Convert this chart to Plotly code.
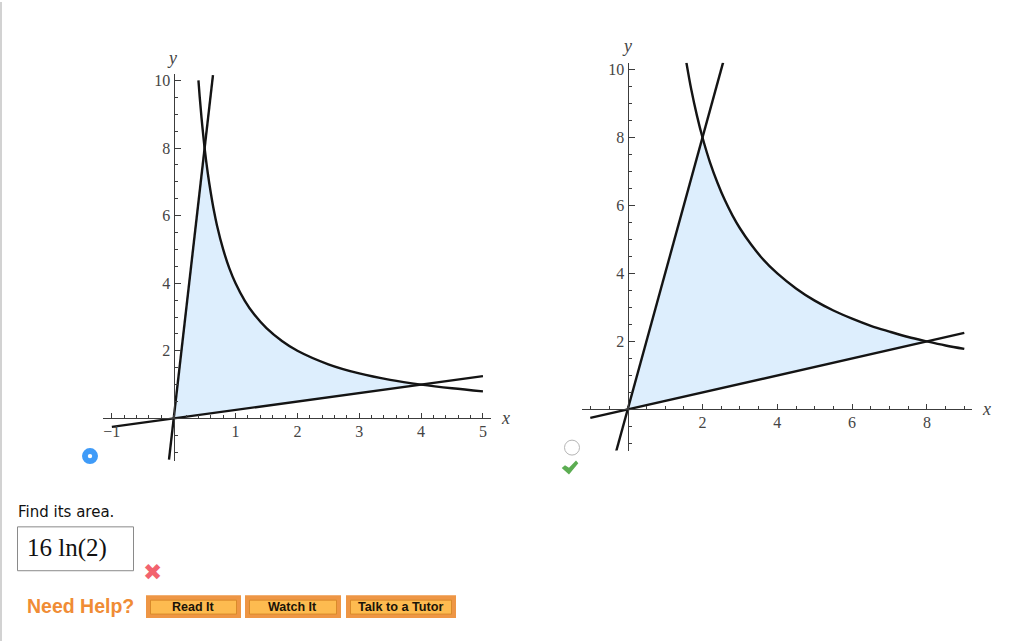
import plotly.graph_objects as go

W, H = 1024, 641

# Left panel readings
left_steep_x = [-0.076, 0, 0.5, 0.635]
left_steep_y = [-1.22, 0, 8, 10.16]
left_shallow_x = [-1, 0, 4, 5]
left_shallow_y = [-0.25, 0, 1, 1.25]
left_hyper_x = [0.4, 0.42, 0.45, 0.5, 0.55, 0.6, 0.65, 0.7, 0.8, 0.9, 1, 1.15, 1.3, 1.5, 1.75, 2, 2.5, 3, 3.5, 4, 4.5, 5]
left_hyper_y = [10.0, 9.52, 8.89, 8, 7.27, 6.67, 6.15, 5.71, 5, 4.44, 4, 3.48, 3.08, 2.67, 2.29, 2, 1.6, 1.33, 1.14, 1, 0.89, 0.8]

# Right panel readings
right_steep_x = [-0.31, 0, 2, 2.55]
right_steep_y = [-1.24, 0, 8, 10.2]
right_shallow_x = [-1, 0, 8, 9]
right_shallow_y = [-0.25, 0, 2, 2.25]
right_hyper_x = [1.57, 1.7, 1.85, 2, 2.2, 2.4, 2.6, 2.8, 3, 3.3, 3.6, 4, 4.5, 5, 5.5, 6, 6.5, 7, 7.5, 8, 8.5, 9]
right_hyper_y = [10.2, 9.41, 8.65, 8, 7.27, 6.67, 6.15, 5.71, 5.33, 4.85, 4.44, 4, 3.56, 3.2, 2.91, 2.67, 2.46, 2.29, 2.13, 2, 1.88, 1.78]

left_xticks = [-1, 1, 2, 3, 4, 5]
right_xticks = [2, 4, 6, 8]
y_ticks = [2, 4, 6, 8, 10]

AXIS = "#3c3c3c"
CURVE = "#141414"
FILL = "#DDEEFD"
SERIF = "Liberation Serif"
SANS = "DejaVu Sans"
ARIAL = "Liberation Sans"


def px(x):
    return x / W


def py(y):
    return 1 - y / H


fig = go.Figure()


def region(hx, hy, x0, x1, xaxis, yaxis):
    ix = [i for i, v in enumerate(hx) if x0 <= v <= x1]
    fx = [0] + [hx[i] for i in ix] + [0]
    fy = [0] + [hy[i] for i in ix] + [0]
    fig.add_trace(go.Scatter(x=fx, y=fy, mode="lines", fill="toself", fillcolor=FILL,
                             line=dict(width=0, color=FILL), xaxis=xaxis, yaxis=yaxis,
                             hoverinfo="skip", showlegend=False))


def curve(x, y, xaxis, yaxis, smooth=False):
    fig.add_trace(go.Scatter(x=x, y=y, mode="lines", xaxis=xaxis, yaxis=yaxis,
                             line=dict(color=CURVE, width=2.4, shape="spline" if smooth else "linear"),
                             hoverinfo="skip", showlegend=False))


region(left_hyper_x, left_hyper_y, 0.5, 4, "x", "y")
region(right_hyper_x, right_hyper_y, 2, 8, "x2", "y2")
for cx, cy in [(left_steep_x, left_steep_y), (left_shallow_x, left_shallow_y)]:
    curve(cx, cy, "x", "y")
curve(left_hyper_x, left_hyper_y, "x", "y", True)
for cx, cy in [(right_steep_x, right_steep_y), (right_shallow_x, right_shallow_y)]:
    curve(cx, cy, "x2", "y2")
curve(right_hyper_x, right_hyper_y, "x2", "y2", True)


def xaxis_cfg(l, r, x0_px, unit, y0_px, ticks, minor):
    return dict(domain=[px(l), px(r)], range=[(l - x0_px) / unit, (r - x0_px) / unit],
                anchor="free", position=py(y0_px), showgrid=False, zeroline=False,
                showline=True, linecolor=AXIS, linewidth=1.4, side="bottom",
                tickmode="array", tickvals=ticks, ticks="inside", ticklen=5, tickwidth=1,
                ticklabelstandoff=-2,
                tickcolor=AXIS, tickfont=dict(family=SERIF, size=16, color="#444444"),
                minor=dict(ticks="inside", dtick=minor, tick0=0, ticklen=3, tickwidth=1,
                           tickcolor=AXIS, showgrid=False))


def yaxis_cfg(t, b, y0_px, unit, x0_px, ticks):
    return dict(domain=[py(b), py(t)], range=[(y0_px - b) / unit, (y0_px - t) / unit],
                anchor="free", position=px(x0_px), showgrid=False, zeroline=False,
                showline=True, linecolor=AXIS, linewidth=1.4, side="left",
                tickmode="array", tickvals=ticks, ticks="inside", ticklen=6, tickwidth=1,
                tickcolor=AXIS, tickfont=dict(family=SERIF, size=16, color="#444444"),
                minor=dict(ticks="inside", dtick=0.5, tick0=0, ticklen=3, tickwidth=1,
                           tickcolor=AXIS, showgrid=False))


def rect(x0, y0, x1, y1, fill, line=None, lw=1):
    return dict(type="rect", xref="paper", yref="paper", x0=px(x0), x1=px(x1), y0=py(y1), y1=py(y0),
                fillcolor=fill, line=dict(color=line or fill, width=lw if line else 0), layer="below")


def circle(cx, cy, r, fill, line=None, lw=1):
    return dict(type="circle", xref="paper", yref="paper", x0=px(cx - r), x1=px(cx + r),
                y0=py(cy + r), y1=py(cy - r), fillcolor=fill,
                line=dict(color=line or fill, width=lw if line else 0), layer="above")


def polygon(points, fill):
    d = "M " + " L ".join(f"{px(x):.5f} {py(y):.5f}" for x, y in points) + " Z"
    return dict(type="path", xref="paper", yref="paper", path=d, fillcolor=fill,
                line=dict(width=0), layer="above")


def ann(text, x, y, size, color, family, anchor="left"):
    return dict(text=text, x=px(x), y=py(y), xref="paper", yref="paper", xanchor=anchor, yanchor="middle",
                showarrow=False, font=dict(size=size, color=color, family=family))


shapes = [
    rect(0, 0, 2, 641, "#D2D2D2"),
    circle(90, 455.5, 8, "#3F9BF8"),
    circle(90, 455.5, 2.2, "#FFFFFF"),
    circle(572, 447, 7.5, "#FFFFFF", "#B5B5B5", 1),
    rect(17.5, 526.5, 133.5, 570.5, "#FFFFFF", "#8A8A8A", 1),
    polygon([(561.7, 467.5), (565, 464.7), (569, 467.3), (576, 460), (578.3, 462.7), (569, 474)], "#5CAD52"),
]
for l, r in [(146, 241), (245, 341), (346, 456)]:
    shapes.append(rect(l, 595, r, 618, "#EE9645"))
    shapes.append(rect(l + 4.5, 600, r - 4.5, 614, "#FDBB50", "#D98A2A", 1))

annotations = [
    ann("<i>y</i>", 172, 56, 18, "#444444", SERIF, "center"),
    ann("<i>x</i>", 505, 417, 18, "#444444", SERIF, "center"),
    ann("<i>y</i>", 627, 44, 18, "#444444", SERIF, "center"),
    ann("<i>x</i>", 986, 408, 18, "#444444", SERIF, "center"),
    ann("Find its area.", 15.5, 511.5, 15, "#111111", SANS),
    ann("16 ln(2)", 25, 548, 25, "#111111", SERIF),
    ann("✖", 152.5, 572, 23, "#F2636F", SANS, "center"),
    ann("<b>Need Help?</b>", 25, 605.5, 19.5, "#F08C35", ARIAL),
    ann("<b>Read It</b>", 193, 606.5, 12.5, "#1A1408", ARIAL, "center"),
    ann("<b>Watch It</b>", 292, 606.5, 12.5, "#1A1408", ARIAL, "center"),
    ann("<b>Talk to a Tutor</b>", 401, 606.5, 12.7, "#1A1408", ARIAL, "center"),
]

fig.update_layout(
    width=W, height=H, autosize=False, margin=dict(l=0, r=0, t=0, b=0),
    paper_bgcolor="white", plot_bgcolor="white", showlegend=False,
    xaxis=xaxis_cfg(103, 491, 173.7, 61.85, 417.7, left_xticks, 0.2),
    yaxis=yaxis_cfg(72, 460, 417.7, 33.9, 173.7, y_ticks),
    xaxis2=xaxis_cfg(582, 972, 627.7, 37.4, 408.7, right_xticks, 0.5),
    yaxis2=yaxis_cfg(61, 450, 408.7, 34.1, 627.7, y_ticks),
    shapes=shapes, annotations=annotations,
)

fig.write_html("out.html", config=dict(displayModeBar=False),
               post_script="document.body.style.margin='0';")
